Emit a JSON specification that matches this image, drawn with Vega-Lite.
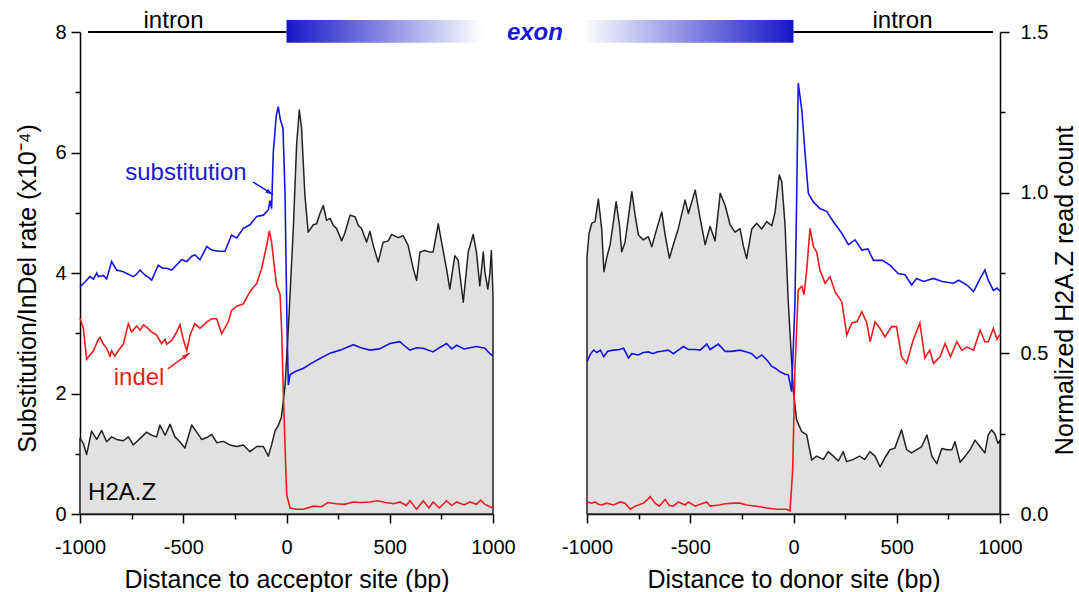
{
"$schema": "https://vega.github.io/schema/vega-lite/v6.json",
"padding": {"left": 15, "top": 8, "right": 5, "bottom": 2},
"bounds": "flush",
"spacing": 94,
"config": {"font": "Liberation Sans", "view": {"stroke": null},
  "axis": {"grid": false, "domainColor": "#000", "tickColor": "#000", "labelColor": "#000", "titleColor": "#000", "labelFontSize": 20, "titleFontSize": 25, "titleFontWeight": "normal", "domainWidth": 1.5, "tickWidth": 1.5, "labelFont": "Liberation Sans", "titleFont": "Liberation Sans"}},
"datasets": {
"acc_sub": [{"x":-1000,"y":3.77},{"x":-976,"y":3.85},{"x":-952,"y":3.94},{"x":-935,"y":3.9},{"x":-919,"y":4.0},{"x":-911,"y":3.94},{"x":-887,"y":3.96},{"x":-871,"y":3.9},{"x":-847,"y":4.19},{"x":-823,"y":4.05},{"x":-790,"y":4.02},{"x":-766,"y":3.98},{"x":-742,"y":3.94},{"x":-726,"y":3.98},{"x":-709,"y":4.05},{"x":-690,"y":3.98},{"x":-665,"y":3.92},{"x":-653,"y":3.88},{"x":-621,"y":4.13},{"x":-600,"y":4.08},{"x":-580,"y":4.08},{"x":-556,"y":4.05},{"x":-508,"y":4.22},{"x":-483,"y":4.19},{"x":-459,"y":4.28},{"x":-443,"y":4.3},{"x":-419,"y":4.22},{"x":-386,"y":4.44},{"x":-362,"y":4.38},{"x":-330,"y":4.36},{"x":-298,"y":4.36},{"x":-266,"y":4.63},{"x":-241,"y":4.58},{"x":-209,"y":4.74},{"x":-177,"y":4.8},{"x":-144,"y":4.94},{"x":-112,"y":4.96},{"x":-88,"y":5.05},{"x":-80,"y":5.2},{"x":-72,"y":5.07},{"x":-64,"y":6.0},{"x":-50,"y":6.6},{"x":-40,"y":6.76},{"x":-30,"y":6.55},{"x":-17,"y":6.4},{"x":-7,"y":5.3},{"x":3,"y":3.0},{"x":9,"y":2.14},{"x":17,"y":2.31},{"x":40,"y":2.36},{"x":82,"y":2.42},{"x":120,"y":2.5},{"x":162,"y":2.58},{"x":211,"y":2.67},{"x":259,"y":2.72},{"x":324,"y":2.81},{"x":360,"y":2.76},{"x":404,"y":2.72},{"x":450,"y":2.74},{"x":501,"y":2.83},{"x":549,"y":2.86},{"x":575,"y":2.78},{"x":598,"y":2.72},{"x":630,"y":2.76},{"x":662,"y":2.75},{"x":710,"y":2.69},{"x":740,"y":2.76},{"x":775,"y":2.83},{"x":800,"y":2.74},{"x":824,"y":2.8},{"x":860,"y":2.74},{"x":888,"y":2.76},{"x":920,"y":2.78},{"x":961,"y":2.75},{"x":985,"y":2.66},{"x":1000,"y":2.62}],
"acc_indel": [{"x":-1000,"y":3.25},{"x":-984,"y":3.09},{"x":-968,"y":2.57},{"x":-952,"y":2.64},{"x":-935,"y":2.71},{"x":-911,"y":2.9},{"x":-903,"y":2.93},{"x":-887,"y":2.82},{"x":-871,"y":2.75},{"x":-855,"y":2.62},{"x":-847,"y":2.71},{"x":-831,"y":2.62},{"x":-815,"y":2.71},{"x":-790,"y":2.82},{"x":-766,"y":3.16},{"x":-750,"y":3.02},{"x":-726,"y":3.12},{"x":-709,"y":3.05},{"x":-693,"y":3.14},{"x":-677,"y":3.1},{"x":-653,"y":3.02},{"x":-629,"y":2.97},{"x":-605,"y":2.83},{"x":-588,"y":2.9},{"x":-580,"y":2.82},{"x":-556,"y":2.88},{"x":-532,"y":3.02},{"x":-516,"y":3.14},{"x":-500,"y":2.9},{"x":-483,"y":2.71},{"x":-467,"y":2.97},{"x":-444,"y":3.16},{"x":-419,"y":3.08},{"x":-386,"y":3.19},{"x":-362,"y":3.24},{"x":-338,"y":3.24},{"x":-314,"y":2.99},{"x":-282,"y":3.19},{"x":-266,"y":3.38},{"x":-241,"y":3.45},{"x":-209,"y":3.49},{"x":-177,"y":3.69},{"x":-144,"y":3.83},{"x":-120,"y":4.08},{"x":-96,"y":4.46},{"x":-83,"y":4.7},{"x":-72,"y":4.51},{"x":-56,"y":4.02},{"x":-48,"y":3.8},{"x":-31,"y":3.64},{"x":-23,"y":3.0},{"x":-15,"y":1.97},{"x":-5,"y":0.9},{"x":1,"y":0.32},{"x":17,"y":0.1},{"x":50,"y":0.08},{"x":82,"y":0.08},{"x":130,"y":0.13},{"x":170,"y":0.12},{"x":200,"y":0.19},{"x":240,"y":0.17},{"x":280,"y":0.16},{"x":324,"y":0.2},{"x":360,"y":0.19},{"x":404,"y":0.2},{"x":440,"y":0.22},{"x":480,"y":0.19},{"x":520,"y":0.17},{"x":549,"y":0.2},{"x":580,"y":0.14},{"x":598,"y":0.22},{"x":630,"y":0.08},{"x":662,"y":0.22},{"x":690,"y":0.1},{"x":710,"y":0.2},{"x":740,"y":0.1},{"x":775,"y":0.22},{"x":800,"y":0.14},{"x":824,"y":0.2},{"x":860,"y":0.15},{"x":888,"y":0.2},{"x":920,"y":0.16},{"x":940,"y":0.23},{"x":961,"y":0.16},{"x":985,"y":0.12},{"x":1000,"y":0.1}],
"acc_h2az": [{"x":-1000,"y":0.236},{"x":-984,"y":0.22},{"x":-968,"y":0.185},{"x":-944,"y":0.258},{"x":-919,"y":0.232},{"x":-895,"y":0.26},{"x":-871,"y":0.225},{"x":-847,"y":0.24},{"x":-823,"y":0.232},{"x":-790,"y":0.228},{"x":-766,"y":0.24},{"x":-742,"y":0.215},{"x":-726,"y":0.225},{"x":-701,"y":0.24},{"x":-677,"y":0.255},{"x":-653,"y":0.245},{"x":-629,"y":0.24},{"x":-613,"y":0.277},{"x":-588,"y":0.245},{"x":-564,"y":0.279},{"x":-540,"y":0.24},{"x":-516,"y":0.225},{"x":-492,"y":0.205},{"x":-459,"y":0.277},{"x":-435,"y":0.255},{"x":-411,"y":0.232},{"x":-386,"y":0.238},{"x":-362,"y":0.248},{"x":-338,"y":0.222},{"x":-306,"y":0.226},{"x":-274,"y":0.215},{"x":-241,"y":0.21},{"x":-209,"y":0.215},{"x":-177,"y":0.194},{"x":-144,"y":0.21},{"x":-112,"y":0.21},{"x":-88,"y":0.18},{"x":-72,"y":0.215},{"x":-56,"y":0.258},{"x":-40,"y":0.275},{"x":-25,"y":0.3},{"x":-7,"y":0.4},{"x":9,"y":0.578},{"x":33,"y":0.89},{"x":49,"y":1.15},{"x":62,"y":1.257},{"x":73,"y":1.2},{"x":89,"y":0.993},{"x":105,"y":0.877},{"x":130,"y":0.9},{"x":146,"y":0.903},{"x":162,"y":0.935},{"x":178,"y":0.96},{"x":194,"y":0.914},{"x":211,"y":0.92},{"x":227,"y":0.898},{"x":243,"y":0.888},{"x":267,"y":0.85},{"x":283,"y":0.875},{"x":308,"y":0.93},{"x":332,"y":0.925},{"x":348,"y":0.898},{"x":364,"y":0.888},{"x":388,"y":0.846},{"x":404,"y":0.88},{"x":420,"y":0.836},{"x":444,"y":0.784},{"x":468,"y":0.846},{"x":493,"y":0.85},{"x":509,"y":0.87},{"x":541,"y":0.86},{"x":565,"y":0.866},{"x":589,"y":0.836},{"x":614,"y":0.763},{"x":630,"y":0.727},{"x":646,"y":0.815},{"x":670,"y":0.82},{"x":694,"y":0.815},{"x":710,"y":0.815},{"x":735,"y":0.903},{"x":751,"y":0.846},{"x":775,"y":0.763},{"x":791,"y":0.7},{"x":815,"y":0.804},{"x":831,"y":0.79},{"x":856,"y":0.659},{"x":880,"y":0.815},{"x":904,"y":0.87},{"x":920,"y":0.815},{"x":936,"y":0.71},{"x":953,"y":0.815},{"x":961,"y":0.752},{"x":975,"y":0.7},{"x":985,"y":0.75},{"x":992,"y":0.82},{"x":1000,"y":0.68}],
"don_sub": [{"x":-1000,"y":2.53},{"x":-984,"y":2.65},{"x":-968,"y":2.72},{"x":-952,"y":2.68},{"x":-935,"y":2.72},{"x":-919,"y":2.61},{"x":-900,"y":2.7},{"x":-872,"y":2.72},{"x":-843,"y":2.73},{"x":-823,"y":2.75},{"x":-799,"y":2.59},{"x":-783,"y":2.66},{"x":-751,"y":2.64},{"x":-727,"y":2.68},{"x":-703,"y":2.69},{"x":-680,"y":2.66},{"x":-662,"y":2.69},{"x":-638,"y":2.7},{"x":-606,"y":2.72},{"x":-582,"y":2.66},{"x":-558,"y":2.72},{"x":-533,"y":2.78},{"x":-509,"y":2.73},{"x":-476,"y":2.73},{"x":-452,"y":2.72},{"x":-420,"y":2.82},{"x":-404,"y":2.73},{"x":-364,"y":2.82},{"x":-331,"y":2.7},{"x":-300,"y":2.7},{"x":-259,"y":2.72},{"x":-227,"y":2.69},{"x":-202,"y":2.66},{"x":-178,"y":2.58},{"x":-154,"y":2.64},{"x":-130,"y":2.56},{"x":-105,"y":2.45},{"x":-89,"y":2.42},{"x":-65,"y":2.36},{"x":-41,"y":2.32},{"x":-25,"y":2.31},{"x":-9,"y":2.03},{"x":7,"y":3.5},{"x":15,"y":5.16},{"x":23,"y":7.15},{"x":40,"y":6.71},{"x":56,"y":5.99},{"x":72,"y":5.32},{"x":96,"y":5.18},{"x":128,"y":5.07},{"x":161,"y":5.02},{"x":193,"y":4.85},{"x":234,"y":4.66},{"x":266,"y":4.47},{"x":298,"y":4.55},{"x":331,"y":4.38},{"x":360,"y":4.4},{"x":387,"y":4.21},{"x":430,"y":4.21},{"x":467,"y":4.13},{"x":507,"y":3.99},{"x":540,"y":3.97},{"x":572,"y":3.8},{"x":596,"y":3.91},{"x":630,"y":3.86},{"x":678,"y":3.91},{"x":720,"y":3.86},{"x":775,"y":3.83},{"x":800,"y":3.88},{"x":840,"y":3.8},{"x":872,"y":3.69},{"x":904,"y":3.91},{"x":927,"y":4.05},{"x":943,"y":3.88},{"x":968,"y":3.71},{"x":985,"y":3.75},{"x":1000,"y":3.7}],
"don_indel": [{"x":-1000,"y":0.2},{"x":-977,"y":0.18},{"x":-961,"y":0.2},{"x":-945,"y":0.16},{"x":-929,"y":0.15},{"x":-905,"y":0.18},{"x":-872,"y":0.15},{"x":-839,"y":0.2},{"x":-816,"y":0.18},{"x":-790,"y":0.08},{"x":-767,"y":0.13},{"x":-727,"y":0.18},{"x":-703,"y":0.25},{"x":-694,"y":0.29},{"x":-670,"y":0.18},{"x":-650,"y":0.13},{"x":-622,"y":0.24},{"x":-601,"y":0.14},{"x":-582,"y":0.13},{"x":-558,"y":0.2},{"x":-525,"y":0.15},{"x":-509,"y":0.2},{"x":-476,"y":0.13},{"x":-452,"y":0.16},{"x":-420,"y":0.2},{"x":-404,"y":0.13},{"x":-360,"y":0.15},{"x":-331,"y":0.17},{"x":-290,"y":0.18},{"x":-259,"y":0.18},{"x":-227,"y":0.15},{"x":-178,"y":0.13},{"x":-130,"y":0.1},{"x":-81,"y":0.08},{"x":-33,"y":0.08},{"x":-17,"y":0.05},{"x":-4,"y":0.73},{"x":7,"y":2.39},{"x":23,"y":3.72},{"x":40,"y":3.78},{"x":51,"y":3.64},{"x":64,"y":4.05},{"x":80,"y":4.74},{"x":96,"y":4.44},{"x":112,"y":4.35},{"x":128,"y":4.05},{"x":153,"y":3.83},{"x":177,"y":3.94},{"x":201,"y":3.69},{"x":234,"y":3.52},{"x":258,"y":2.97},{"x":282,"y":3.17},{"x":307,"y":3.19},{"x":331,"y":3.36},{"x":355,"y":3.17},{"x":371,"y":2.86},{"x":395,"y":3.19},{"x":419,"y":3.08},{"x":443,"y":2.94},{"x":475,"y":3.11},{"x":499,"y":3.11},{"x":523,"y":2.61},{"x":548,"y":2.5},{"x":580,"y":2.89},{"x":612,"y":3.17},{"x":636,"y":2.59},{"x":660,"y":2.72},{"x":678,"y":2.5},{"x":710,"y":2.61},{"x":734,"y":2.83},{"x":760,"y":2.61},{"x":791,"y":2.86},{"x":815,"y":2.72},{"x":840,"y":2.77},{"x":872,"y":2.72},{"x":904,"y":3.05},{"x":927,"y":2.86},{"x":943,"y":2.86},{"x":968,"y":3.08},{"x":985,"y":2.9},{"x":1000,"y":2.98}],
"don_h2az": [{"x":-1000,"y":0.8},{"x":-990,"y":0.873},{"x":-977,"y":0.905},{"x":-961,"y":0.91},{"x":-945,"y":0.98},{"x":-929,"y":0.888},{"x":-918,"y":0.754},{"x":-905,"y":0.796},{"x":-888,"y":0.838},{"x":-872,"y":0.91},{"x":-859,"y":0.972},{"x":-843,"y":0.9},{"x":-832,"y":0.816},{"x":-816,"y":0.845},{"x":-800,"y":0.92},{"x":-783,"y":1.003},{"x":-767,"y":0.93},{"x":-751,"y":0.868},{"x":-727,"y":0.853},{"x":-703,"y":0.863},{"x":-686,"y":0.832},{"x":-662,"y":0.888},{"x":-638,"y":0.94},{"x":-622,"y":0.87},{"x":-601,"y":0.796},{"x":-582,"y":0.838},{"x":-558,"y":0.888},{"x":-525,"y":0.977},{"x":-509,"y":0.935},{"x":-476,"y":1.008},{"x":-452,"y":0.92},{"x":-428,"y":0.838},{"x":-404,"y":0.895},{"x":-380,"y":0.85},{"x":-355,"y":0.998},{"x":-331,"y":0.96},{"x":-307,"y":0.9},{"x":-283,"y":0.877},{"x":-259,"y":0.888},{"x":-243,"y":0.835},{"x":-227,"y":0.795},{"x":-202,"y":0.887},{"x":-178,"y":0.905},{"x":-154,"y":0.887},{"x":-130,"y":0.91},{"x":-105,"y":0.897},{"x":-89,"y":0.94},{"x":-69,"y":1.055},{"x":-57,"y":1.035},{"x":-41,"y":0.9},{"x":-25,"y":0.656},{"x":-1,"y":0.386},{"x":15,"y":0.293},{"x":40,"y":0.256},{"x":64,"y":0.246},{"x":88,"y":0.168},{"x":112,"y":0.18},{"x":145,"y":0.17},{"x":168,"y":0.194},{"x":193,"y":0.18},{"x":217,"y":0.165},{"x":241,"y":0.194},{"x":257,"y":0.163},{"x":290,"y":0.17},{"x":320,"y":0.18},{"x":345,"y":0.17},{"x":370,"y":0.194},{"x":395,"y":0.18},{"x":419,"y":0.147},{"x":443,"y":0.175},{"x":467,"y":0.2},{"x":491,"y":0.205},{"x":523,"y":0.262},{"x":548,"y":0.2},{"x":572,"y":0.19},{"x":597,"y":0.2},{"x":621,"y":0.21},{"x":646,"y":0.246},{"x":670,"y":0.18},{"x":694,"y":0.157},{"x":718,"y":0.204},{"x":743,"y":0.2},{"x":767,"y":0.2},{"x":782,"y":0.225},{"x":807,"y":0.161},{"x":831,"y":0.18},{"x":855,"y":0.2},{"x":879,"y":0.23},{"x":903,"y":0.21},{"x":927,"y":0.19},{"x":943,"y":0.246},{"x":959,"y":0.262},{"x":975,"y":0.25},{"x":990,"y":0.22},{"x":1000,"y":0.23}]
},
"hconcat": [
{
 "width": 413, "height": 482,
 "encoding": {"x": {"field": "x", "type": "quantitative", "scale": {"domain": [-1000, 1000], "nice": false},
   "axis": {"title": "Distance to acceptor site (bp)", "values": [-1000,-750,-500,-250,0,250,500,750,1000], "labelExpr": "datum.value % 500 === 0 ? ('' + datum.value) : ''", "tickSize": {"condition": {"test": "datum.value % 500 === 0", "value": 9}, "value": 5}, "labelPadding": 14, "titlePadding": 10, "labelFlush": false}}},
 "layer": [
  {"data": {"name": "acc_h2az"}, "mark": {"type": "area", "fill": "#e1e1e1", "stroke": "#222222", "strokeWidth": 1.5, "strokeJoin": "round"},
   "encoding": {"y": {"field": "y", "type": "quantitative", "scale": {"domain": [0, 1.5], "nice": false}, "axis": null}}},
  {"encoding": {"y": {"field": "y", "type": "quantitative", "scale": {"domain": [0, 8], "nice": false},
     "axis": {"title": "Substitution/InDel rate (x10⁻⁴)", "titleY": 256, "values": [0,1,2,3,4,5,6,7,8], "labelExpr": "datum.value % 2 === 0 ? ('' + datum.value) : ''", "tickSize": {"condition": {"test": "datum.value % 2 === 0", "value": 9}, "value": 5}, "labelPadding": 5, "titlePadding": 14}}},
   "layer": [
    {"data": {"name": "acc_sub"}, "mark": {"type": "line", "color": "#1515e0", "strokeWidth": 1.6}, "encoding": {}},
    {"data": {"name": "acc_indel"}, "mark": {"type": "line", "color": "#ee1c1c", "strokeWidth": 1.6}, "encoding": {}},
    {"data": {"values": [{"x": -961, "y": 8, "xe": 0}]}, "mark": {"type": "rule", "color": "#000", "strokeWidth": 2}, "encoding": {"x2": {"field": "xe"}}},
    {"data": {"values": [{"x": 0, "xe": 1000, "y": 7.82, "ye": 8.2}]}, "mark": {"type": "rect", "color": {"gradient": "linear", "x1": 0, "y1": 0, "x2": 1, "y2": 0, "stops": [{"offset": 0, "color": "#1616c8"}, {"offset": 0.95, "color": "#ffffff"}]}}, "encoding": {"x2": {"field": "xe"}, "y2": {"field": "ye"}}},
    {"data": {"values": [{"x": -547, "y": 8.07, "label": "intron"}]}, "mark": {"type": "text", "fontSize": 24, "color": "#000", "baseline": "alphabetic", "align": "center"}, "encoding": {"text": {"field": "label"}}},
    {"data": {"values": [{"x": 1203, "y": 7.87, "label": "exon"}]}, "mark": {"type": "text", "fontSize": 24, "fontWeight": "bold", "fontStyle": "italic", "color": "#1a1ad2", "baseline": "alphabetic", "align": "center"}, "encoding": {"text": {"field": "label"}}},
    {"data": {"values": [{"x": -487, "y": 5.66, "label": "substitution"}]}, "mark": {"type": "text", "fontSize": 24, "color": "#1a1ad2", "baseline": "middle", "align": "center"}, "encoding": {"text": {"field": "label"}}},
    {"data": {"values": [{"x": -714, "y": 2.26, "label": "indel"}]}, "mark": {"type": "text", "fontSize": 24, "color": "#ee1c1c", "baseline": "middle", "align": "center"}, "encoding": {"text": {"field": "label"}}},
    {"data": {"values": [{"x": -961, "y": 0.23, "label": "H2A.Z"}]}, "mark": {"type": "text", "fontSize": 24, "color": "#000", "baseline": "alphabetic", "align": "left"}, "encoding": {"text": {"field": "label"}}},
    {"data": {"values": [{"x": -162, "y": 5.51, "xe": -65, "ye": 5.3}]}, "mark": {"type": "rule", "color": "#1515e0", "strokeWidth": 1.5}, "encoding": {"x2": {"field": "xe"}, "y2": {"field": "ye"}}},
    {"data": {"values": [{"x": -65, "y": 5.3}]}, "mark": {"type": "point", "filled": true, "opacity": 1, "color": "#1515e0", "shape": "M0,0 L-0.55,1.9 L0.55,1.9 Z", "size": 64, "angle": 123}, "encoding": {}},
    {"data": {"values": [{"x": -575, "y": 2.41, "xe": -470, "ye": 2.67}]}, "mark": {"type": "rule", "color": "#ee1c1c", "strokeWidth": 1.5}, "encoding": {"x2": {"field": "xe"}, "y2": {"field": "ye"}}},
    {"data": {"values": [{"x": -470, "y": 2.67}]}, "mark": {"type": "point", "filled": true, "opacity": 1, "color": "#ee1c1c", "shape": "M0,0 L-0.55,1.9 L0.55,1.9 Z", "size": 64, "angle": 54}, "encoding": {}}
   ]}
 ],
 "resolve": {"scale": {"y": "independent"}}
},
{
 "width": 413, "height": 482,
 "encoding": {"x": {"field": "x", "type": "quantitative", "scale": {"domain": [-1000, 1000], "nice": false},
   "axis": {"title": "Distance to donor site (bp)", "values": [-1000,-750,-500,-250,0,250,500,750,1000], "labelExpr": "datum.value % 500 === 0 ? ('' + datum.value) : ''", "tickSize": {"condition": {"test": "datum.value % 500 === 0", "value": 9}, "value": 5}, "labelPadding": 14, "titlePadding": 10, "labelFlush": false}}},
 "layer": [
  {"data": {"name": "don_h2az"}, "mark": {"type": "area", "fill": "#e1e1e1", "stroke": "#222222", "strokeWidth": 1.5, "strokeJoin": "round"},
   "encoding": {"y": {"field": "y", "type": "quantitative", "scale": {"domain": [0, 1.5], "nice": false},
     "axis": {"orient": "right", "title": "Normalized H2A.Z read count", "titleAngle": 270, "titleBaseline": "top", "titleY": 258, "values": [0,0.25,0.5,0.75,1,1.25,1.5], "labelExpr": "datum.value % 0.5 === 0 ? format(datum.value, '.1f') : ''", "tickSize": {"condition": {"test": "datum.value % 0.5 === 0", "value": 9}, "value": 5}, "labelPadding": 11, "titlePadding": 5}}}},
  {"encoding": {"y": {"field": "y", "type": "quantitative", "scale": {"domain": [0, 8], "nice": false}, "axis": null}},
   "layer": [
    {"data": {"name": "don_sub"}, "mark": {"type": "line", "color": "#1515e0", "strokeWidth": 1.6}, "encoding": {}},
    {"data": {"name": "don_indel"}, "mark": {"type": "line", "color": "#ee1c1c", "strokeWidth": 1.6}, "encoding": {}},
    {"data": {"values": [{"x": 0, "y": 8, "xe": 966}]}, "mark": {"type": "rule", "color": "#000", "strokeWidth": 2}, "encoding": {"x2": {"field": "xe"}}},
    {"data": {"values": [{"x": -1020, "xe": 0, "y": 7.82, "ye": 8.2}]}, "mark": {"type": "rect", "color": {"gradient": "linear", "x1": 0, "y1": 0, "x2": 1, "y2": 0, "stops": [{"offset": 0, "color": "#ffffff"}, {"offset": 1, "color": "#1616c8"}]}}, "encoding": {"x2": {"field": "xe"}, "y2": {"field": "ye"}}},
    {"data": {"values": [{"x": 528, "y": 8.07, "label": "intron"}]}, "mark": {"type": "text", "fontSize": 24, "color": "#000", "baseline": "alphabetic", "align": "center"}, "encoding": {"text": {"field": "label"}}}
   ]}
 ],
 "resolve": {"scale": {"y": "independent"}}
}
]
}
